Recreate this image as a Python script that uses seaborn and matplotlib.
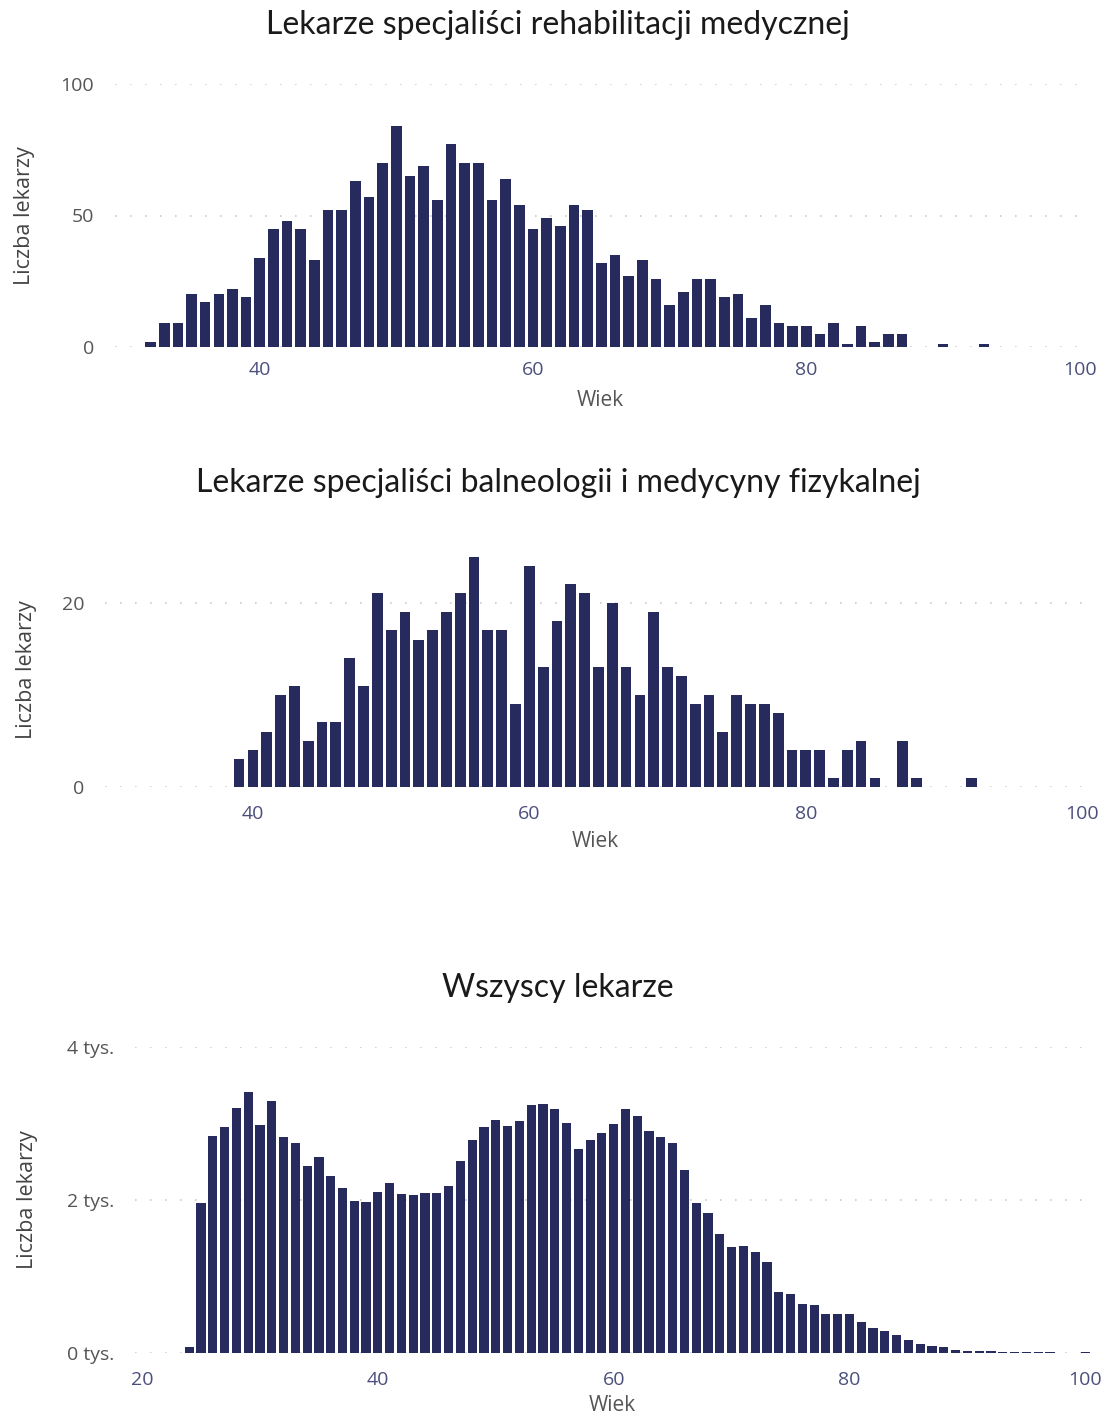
import numpy as np
import matplotlib
matplotlib.use("Agg")
import matplotlib.pyplot as plt
from matplotlib.ticker import FuncFormatter
import seaborn as sns

sns.set_style("white")
plt.rcParams['font.family'] = ['Open Sans', 'DejaVu Sans']

# Rehabilitacja medyczna
rehab_ages = list(range(32, 88)) + [90, 93]
rehab_counts = [2, 9, 9, 20, 17, 20, 22, 19, 34, 45,
                48, 45, 33, 52, 52, 63, 57, 70, 84, 65,
                69, 56, 77, 70, 70, 56, 64, 54, 45, 49,
                46, 54, 52, 32, 35, 27, 33, 26, 16, 21,
                26, 26, 19, 20, 11, 16, 9, 8, 8, 5,
                9, 1, 8, 2, 5, 5, 1, 1]

# Balneologia i medycyna fizykalna
balneo_ages = list(range(39, 86)) + [87, 88, 92]
balneo_counts = [3, 4, 6, 10, 11, 5, 7, 7, 14, 11,
                 21, 17, 19, 16, 17, 19, 21, 25, 17, 17,
                 9, 24, 13, 18, 22, 21, 13, 20, 13, 10,
                 19, 13, 12, 9, 10, 6, 10, 9, 9, 8,
                 4, 4, 4, 1, 4, 5, 1, 5, 1, 1]

# Wszyscy lekarze
all_ages = list(range(24, 98)) + [100]
all_counts = [75, 1960, 2835, 2960, 3200, 3410, 2980, 3290, 2830, 2750,
              2440, 2560, 2320, 2160, 1990, 1980, 2100, 2220, 2080, 2065,
              2095, 2095, 2180, 2510, 2780, 2960, 3050, 2965, 3035, 3240,
              3260, 3190, 3010, 2670, 2780, 2870, 2990, 3190, 3100, 2900,
              2820, 2750, 2390, 1960, 1835, 1555, 1390, 1395, 1325, 1195,
              800, 775, 645, 625, 515, 515, 506, 405, 330, 285,
              240, 175, 120, 90, 80, 45, 30, 20, 20, 15,
              15, 12, 10, 10, 10]

titles = ["Lekarze specjaliści rehabilitacji medycznej",
          "Lekarze specjaliści balneologii i medycyny fizykalnej",
          "Wszyscy lekarze"]

bar_color = "#262a5d"
W, H = 1106, 1423

fig = plt.figure(figsize=(W / 100, H / 100), dpi=100)


def make_axes(left, right, top, bottom):
    # pixel box -> figure fraction
    return fig.add_axes([left / W, (H - bottom) / H, (right - left) / W, (bottom - top) / H])


def style_axes(ax, xlim, ylim, yticks, xticks, ylabel_x, xpad, labelpad):
    ax.set_xlim(*xlim)
    ax.set_ylim(*ylim)
    ax.set_yticks(yticks)
    ax.set_xticks(xticks)
    ax.set_xticklabels([str(t) for t in xticks])
    ax.grid(axis="y", color="#cccccc", linestyle=(0, (1, 8)), linewidth=1.2)
    ax.grid(axis="x", visible=False)
    ax.set_axisbelow(True)
    sns.despine(ax=ax, left=True, bottom=True)
    ax.tick_params(axis="x", length=0, pad=xpad, labelsize=14, labelcolor="#4b4f7c")
    ax.tick_params(axis="y", length=0, pad=15, labelsize=14, labelcolor="#555555")
    ax.set_xlabel("Wiek", fontsize=15, color="#555555", labelpad=labelpad)
    ax.set_ylabel("Liczba lekarzy", fontsize=15.5, color="#444444")
    ax.yaxis.set_label_coords(ylabel_x, 0.5)


def draw(ax, ages, counts):
    sns.barplot(x=ages, y=counts, native_scale=True, width=0.78,
                color=bar_color, linewidth=0, saturation=1, ax=ax)


# top chart
ax1 = make_axes(115, 1085, 84, 347)
draw(ax1, rehab_ages, rehab_counts)
style_axes(ax1, (29.4, 100.4), (0, 100), [0, 50, 100], [40, 60, 80, 100], -0.082, 10, 8)

# middle chart
ax2 = make_axes(105, 1085, 552, 787)
draw(ax2, balneo_ages, balneo_counts)
style_axes(ax2, (29.3, 100.2), (0, 25.5), [0, 20], [40, 60, 80, 100], -0.069, 13, 6)

# bottom chart
ax3 = make_axes(135, 1090, 1047, 1353)
draw(ax3, all_ages, all_counts)
style_axes(ax3, (19.4, 100.4), (0, 4000), [0, 2000, 4000], [20, 40, 60, 80, 100], -0.102, 13, 4)
ax3.yaxis.set_major_formatter(FuncFormatter(lambda v, p: f"{int(v / 1000)} tys."))

title_y = [25, 483, 988]
for t, y in zip(titles, title_y):
    fig.text(558 / W, 1 - y / H, t, ha="center", va="center", fontsize=23,
             family=["Lato", "DejaVu Sans"], color="#1a1a1a")

fig.savefig("out.png", dpi=100)
